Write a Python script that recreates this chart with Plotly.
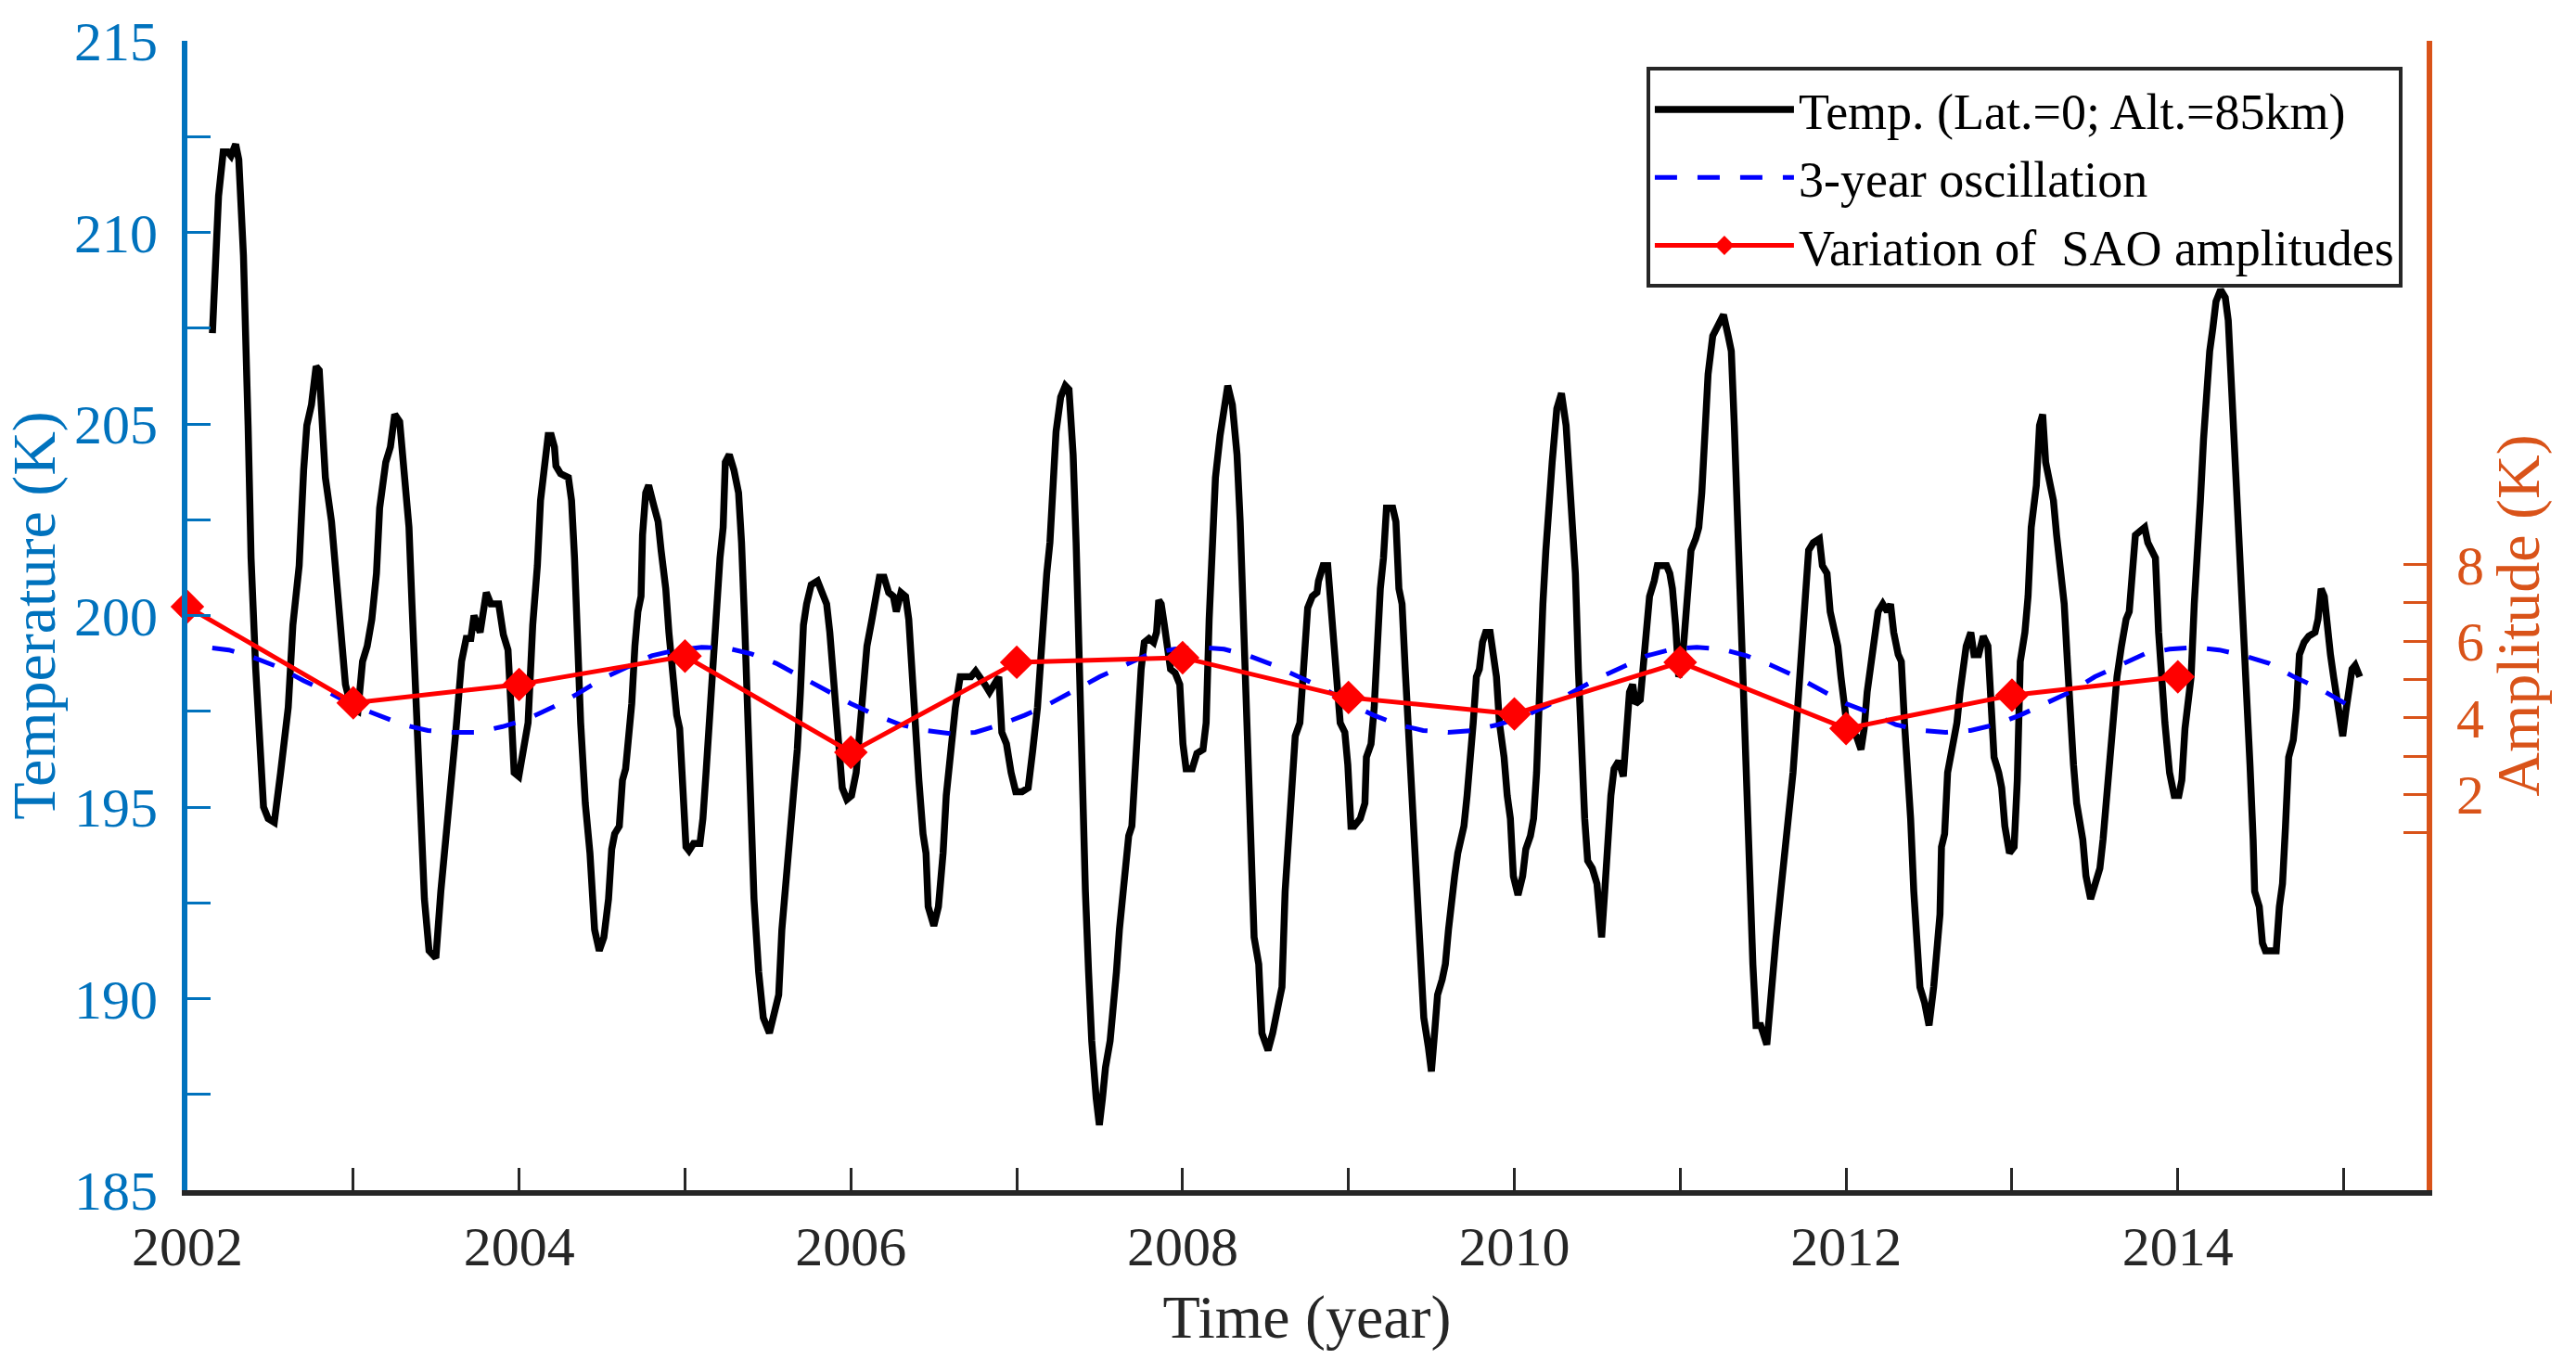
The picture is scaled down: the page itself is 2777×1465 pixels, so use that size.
import plotly.graph_objects as go

# ---------------- data ----------------
# Temperature at Lat.=0, Alt.=85 km  (year, K)
temp_points = [
    (2002.151, 207.37), (2002.188, 210.95), (2002.216, 212.1), (2002.244, 212.1), (2002.263, 212.0),
    (2002.291, 212.3), (2002.310, 211.9), (2002.338, 209.4), (2002.366, 204.96), (2002.384, 201.5),
    (2002.412, 198.6), (2002.440, 196.5), (2002.459, 195.0), (2002.487, 194.7), (2002.524, 194.6),
    (2002.562, 195.9), (2002.608, 197.6), (2002.636, 199.75), (2002.674, 201.3), (2002.701, 203.8),
    (2002.720, 204.96), (2002.748, 205.5), (2002.776, 206.5), (2002.795, 206.4), (2002.832, 203.6),
    (2002.869, 202.45), (2002.897, 200.9), (2002.925, 199.4), (2002.953, 198.2), (2002.987, 197.6),
    (2003.028, 197.5), (2003.056, 198.8), (2003.084, 199.2), (2003.112, 199.9), (2003.140, 201.1),
    (2003.159, 202.8), (2003.196, 204.0), (2003.224, 204.4), (2003.250, 205.25), (2003.280, 205.06),
    (2003.308, 203.8), (2003.336, 202.3), (2003.354, 200.3), (2003.379, 197.6), (2003.401, 194.7),
    (2003.429, 192.6), (2003.457, 191.25), (2003.498, 191.06), (2003.528, 192.8), (2003.560, 194.2),
    (2003.588, 195.7), (2003.616, 196.85), (2003.653, 198.8), (2003.681, 199.4), (2003.709, 199.4),
    (2003.728, 200.0), (2003.765, 199.56), (2003.802, 200.6), (2003.830, 200.3), (2003.877, 200.3),
    (2003.905, 199.5), (2003.933, 199.1), (2003.951, 197.6), (2003.970, 195.9), (2003.998, 195.8),
    (2004.026, 196.5), (2004.054, 197.2), (2004.082, 199.75), (2004.110, 201.3), (2004.129, 203.0),
    (2004.157, 204.2), (2004.175, 204.7), (2004.194, 204.7), (2004.213, 204.4), (2004.222, 203.9),
    (2004.250, 203.7), (2004.297, 203.6), (2004.316, 203.0), (2004.334, 201.5), (2004.353, 199.2),
    (2004.371, 197.2), (2004.399, 195.1), (2004.427, 193.8), (2004.455, 191.8), (2004.483, 191.25),
    (2004.511, 191.6), (2004.539, 192.6), (2004.558, 193.9), (2004.576, 194.3), (2004.604, 194.5),
    (2004.623, 195.7), (2004.642, 196.0), (2004.660, 196.85), (2004.679, 197.7), (2004.698, 199.2),
    (2004.716, 200.1), (2004.735, 200.5), (2004.744, 202.1), (2004.763, 203.2), (2004.781, 203.4),
    (2004.810, 202.9), (2004.838, 202.45), (2004.856, 201.7), (2004.884, 200.7), (2004.903, 199.56),
    (2004.922, 198.6), (2004.950, 197.4), (2004.968, 197.05), (2004.987, 195.7), (2005.006, 193.96),
    (2005.024, 193.86), (2005.052, 194.05), (2005.090, 194.05), (2005.108, 194.7), (2005.127, 195.9),
    (2005.146, 197.2), (2005.164, 198.8), (2005.183, 200.3), (2005.211, 201.5), (2005.230, 202.3),
    (2005.243, 204.0), (2005.267, 204.2), (2005.295, 203.8), (2005.323, 203.2), (2005.341, 201.9),
    (2005.360, 199.75), (2005.379, 197.2), (2005.397, 194.7), (2005.416, 192.6), (2005.444, 190.7),
    (2005.472, 189.5), (2005.509, 189.1), (2005.537, 189.7), (2005.565, 190.1), (2005.584, 191.8),
    (2005.612, 193.2), (2005.631, 194.15), (2005.657, 195.5), (2005.677, 196.5), (2005.696, 198.0),
    (2005.714, 199.75), (2005.733, 200.3), (2005.761, 200.8), (2005.799, 200.9), (2005.826, 200.6),
    (2005.854, 200.3), (2005.873, 199.56), (2005.892, 198.6), (2005.910, 197.6), (2005.929, 196.3),
    (2005.948, 195.5), (2005.976, 195.2), (2006.004, 195.3), (2006.032, 195.9), (2006.050, 196.7),
    (2006.078, 198.0), (2006.097, 199.2), (2006.125, 199.85), (2006.144, 200.3), (2006.172, 201.0),
    (2006.200, 201.0), (2006.228, 200.6), (2006.256, 200.5), (2006.274, 200.1), (2006.302, 200.6),
    (2006.330, 200.5), (2006.349, 199.9), (2006.368, 198.6), (2006.386, 196.7), (2006.410, 195.7),
    (2006.435, 194.3), (2006.453, 193.8), (2006.466, 192.4), (2006.500, 191.9), (2006.528, 192.4),
    (2006.556, 193.8), (2006.575, 195.3), (2006.603, 196.5), (2006.630, 197.6), (2006.659, 198.4),
    (2006.696, 198.4), (2006.724, 198.4), (2006.752, 198.55), (2006.780, 198.4), (2006.808, 198.2),
    (2006.836, 198.0), (2006.864, 198.2), (2006.892, 198.4), (2006.910, 196.95), (2006.938, 196.65),
    (2006.966, 195.9), (2006.994, 195.4), (2007.032, 195.4), (2007.069, 195.5), (2007.097, 196.5),
    (2007.125, 197.6), (2007.144, 198.8), (2007.162, 200.1), (2007.181, 201.1), (2007.200, 201.9),
    (2007.218, 203.6), (2007.237, 204.8), (2007.265, 205.7), (2007.293, 206.0), (2007.315, 205.9),
    (2007.340, 204.2), (2007.358, 201.9), (2007.377, 198.4), (2007.396, 194.7), (2007.414, 192.8),
    (2007.433, 190.7), (2007.452, 188.9), (2007.479, 187.4), (2007.498, 186.7), (2007.517, 187.4),
    (2007.535, 188.2), (2007.563, 188.9), (2007.582, 189.7), (2007.601, 190.7), (2007.619, 191.8),
    (2007.638, 192.8), (2007.657, 193.8), (2007.675, 194.25), (2007.694, 194.5), (2007.713, 196.1),
    (2007.731, 197.2), (2007.750, 198.6), (2007.769, 199.3), (2007.797, 199.4), (2007.825, 199.3),
    (2007.843, 199.56), (2007.856, 200.4), (2007.871, 200.3), (2007.890, 199.75), (2007.909, 199.2),
    (2007.927, 198.6), (2007.955, 198.5), (2007.983, 198.2), (2008.002, 196.65), (2008.021, 196.0),
    (2008.058, 196.0), (2008.086, 196.4), (2008.123, 196.5), (2008.142, 197.2), (2008.160, 199.9),
    (2008.179, 202.1), (2008.198, 203.6), (2008.226, 204.7), (2008.254, 205.7), (2008.272, 206.0),
    (2008.300, 205.5), (2008.328, 204.2), (2008.347, 202.45), (2008.366, 199.9), (2008.384, 196.65),
    (2008.403, 193.96), (2008.431, 191.6), (2008.459, 190.9), (2008.478, 189.1), (2008.515, 188.65),
    (2008.543, 189.1), (2008.580, 189.9), (2008.599, 190.3), (2008.618, 192.8), (2008.636, 193.96),
    (2008.655, 195.1), (2008.679, 196.85), (2008.707, 197.2), (2008.726, 198.2), (2008.745, 199.56),
    (2008.754, 200.2), (2008.782, 200.5), (2008.810, 200.6), (2008.819, 200.9), (2008.847, 201.3),
    (2008.875, 201.3), (2008.894, 200.3), (2008.913, 199.0), (2008.931, 198.2), (2008.950, 197.2),
    (2008.978, 196.95), (2008.996, 196.1), (2009.015, 194.5), (2009.034, 194.5), (2009.071, 194.7),
    (2009.099, 195.1), (2009.108, 196.3), (2009.136, 196.65), (2009.155, 197.6), (2009.173, 199.2),
    (2009.192, 200.7), (2009.211, 201.5), (2009.229, 202.8), (2009.267, 202.8), (2009.286, 202.45),
    (2009.304, 200.7), (2009.323, 200.3), (2009.342, 198.6), (2009.360, 197.05), (2009.379, 195.1),
    (2009.397, 194.15), (2009.416, 192.8), (2009.435, 190.9), (2009.454, 189.5), (2009.481, 188.75),
    (2009.500, 188.1), (2009.519, 189.1), (2009.537, 190.1), (2009.565, 190.5), (2009.584, 190.9),
    (2009.603, 191.8), (2009.621, 192.6), (2009.640, 193.2), (2009.659, 193.8), (2009.677, 194.15),
    (2009.696, 194.5), (2009.715, 195.3), (2009.733, 196.1), (2009.752, 197.2), (2009.771, 198.4),
    (2009.789, 198.6), (2009.808, 199.3), (2009.827, 199.56), (2009.854, 199.56), (2009.873, 198.8),
    (2009.892, 198.4), (2009.910, 197.2), (2009.938, 196.3), (2009.957, 195.3), (2009.976, 194.7),
    (2009.994, 193.2), (2010.022, 192.7), (2010.050, 193.2), (2010.069, 193.9), (2010.097, 194.25),
    (2010.116, 194.7), (2010.134, 195.9), (2010.153, 198.4), (2010.172, 200.3), (2010.190, 201.7),
    (2010.209, 203.0), (2010.228, 204.0), (2010.256, 205.4), (2010.284, 205.8), (2010.312, 204.96),
    (2010.330, 203.6), (2010.349, 202.3), (2010.368, 201.1), (2010.386, 198.6), (2010.405, 196.5),
    (2010.424, 194.7), (2010.442, 193.6), (2010.470, 193.4), (2010.498, 193.0), (2010.517, 192.2),
    (2010.526, 191.6), (2010.545, 192.8), (2010.563, 194.15), (2010.582, 195.3), (2010.601, 196.0),
    (2010.629, 196.2), (2010.657, 195.8), (2010.675, 197.05), (2010.694, 198.0), (2010.713, 198.2),
    (2010.731, 197.7), (2010.759, 197.8), (2010.778, 198.8), (2010.797, 199.75), (2010.815, 200.5),
    (2010.843, 200.9), (2010.862, 201.3), (2010.890, 201.3), (2010.918, 201.3), (2010.937, 201.1),
    (2010.953, 200.7), (2010.972, 199.75), (2010.991, 198.4), (2011.009, 198.6), (2011.028, 199.56),
    (2011.047, 200.5), (2011.065, 201.7), (2011.093, 202.0), (2011.112, 202.3), (2011.130, 203.2),
    (2011.149, 204.96), (2011.168, 206.3), (2011.196, 207.3), (2011.224, 207.5), (2011.261, 207.85),
    (2011.289, 207.3), (2011.308, 206.9), (2011.326, 204.96), (2011.345, 202.45), (2011.363, 199.75),
    (2011.382, 197.05), (2011.401, 194.5), (2011.420, 192.8), (2011.438, 190.9), (2011.457, 189.3),
    (2011.485, 189.3), (2011.522, 188.8), (2011.541, 189.9), (2011.559, 190.9), (2011.578, 191.6),
    (2011.606, 192.8), (2011.624, 193.6), (2011.643, 194.15), (2011.662, 194.9), (2011.680, 195.9),
    (2011.699, 197.05), (2011.718, 198.2), (2011.736, 199.2), (2011.755, 200.3), (2011.774, 201.7),
    (2011.802, 201.9), (2011.839, 202.0), (2011.857, 201.3), (2011.885, 201.1), (2011.904, 200.1),
    (2011.922, 199.75), (2011.950, 199.2), (2011.969, 198.4), (2011.988, 197.6), (2012.007, 197.05),
    (2012.034, 196.95), (2012.062, 196.85), (2012.090, 196.5), (2012.109, 197.05), (2012.127, 198.0),
    (2012.156, 198.8), (2012.175, 199.56), (2012.193, 200.1), (2012.221, 200.3), (2012.249, 200.1),
    (2012.268, 200.3), (2012.287, 199.56), (2012.314, 198.98), (2012.333, 198.8), (2012.352, 197.2),
    (2012.370, 196.1), (2012.389, 194.7), (2012.408, 192.8), (2012.426, 191.45), (2012.445, 190.3),
    (2012.473, 189.9), (2012.500, 189.3), (2012.528, 190.3), (2012.547, 191.06), (2012.566, 192.2),
    (2012.575, 193.96), (2012.594, 194.3), (2012.612, 195.9), (2012.631, 196.3), (2012.650, 196.85),
    (2012.668, 197.2), (2012.687, 198.0), (2012.706, 198.6), (2012.724, 199.2), (2012.752, 199.56),
    (2012.771, 198.98), (2012.799, 198.98), (2012.827, 199.46), (2012.855, 199.2), (2012.873, 197.6),
    (2012.892, 196.3), (2012.920, 195.9), (2012.938, 195.5), (2012.957, 194.5), (2012.985, 193.8),
    (2013.013, 193.96), (2013.032, 195.7), (2013.050, 198.8), (2013.078, 199.56), (2013.097, 200.5),
    (2013.116, 202.3), (2013.147, 203.4), (2013.166, 204.96), (2013.185, 205.25), (2013.203, 204.0),
    (2013.231, 203.4), (2013.250, 203.0), (2013.269, 202.1), (2013.297, 201.1), (2013.315, 200.3),
    (2013.334, 198.8), (2013.353, 197.05), (2013.371, 196.1), (2013.390, 195.1), (2013.409, 194.5),
    (2013.427, 194.15), (2013.446, 193.2), (2013.474, 192.6), (2013.502, 193.0), (2013.530, 193.4),
    (2013.549, 194.15), (2013.577, 195.7), (2013.595, 196.85), (2013.614, 197.6), (2013.633, 198.4),
    (2013.660, 199.2), (2013.688, 199.9), (2013.707, 200.1), (2013.726, 200.9), (2013.744, 202.1),
    (2013.772, 202.2), (2013.800, 202.3), (2013.819, 201.9), (2013.847, 201.7), (2013.865, 201.5),
    (2013.884, 199.56), (2013.903, 198.0), (2013.922, 197.2), (2013.950, 195.9), (2013.978, 195.3),
    (2014.006, 195.3), (2014.024, 195.7), (2014.043, 197.05), (2014.062, 198.0), (2014.080, 198.4),
    (2014.099, 200.3), (2014.118, 201.5), (2014.136, 203.0), (2014.155, 204.6), (2014.174, 205.9),
    (2014.192, 206.9), (2014.211, 207.5), (2014.230, 208.2), (2014.258, 208.5), (2014.286, 208.3),
    (2014.304, 207.7), (2014.323, 206.1), (2014.342, 204.4), (2014.360, 202.6), (2014.379, 201.5),
    (2014.398, 199.75), (2014.416, 198.4), (2014.435, 196.1), (2014.454, 194.15), (2014.463, 192.8),
    (2014.491, 192.4), (2014.510, 191.45), (2014.528, 191.25), (2014.565, 191.25), (2014.593, 191.25),
    (2014.612, 192.4), (2014.631, 193.0), (2014.649, 194.5), (2014.668, 196.3), (2014.696, 196.75),
    (2014.715, 197.6), (2014.733, 198.98), (2014.761, 199.3), (2014.789, 199.46), (2014.827, 199.56),
    (2014.845, 199.9), (2014.864, 200.7), (2014.883, 200.5), (2014.901, 199.56), (2014.920, 198.98),
    (2014.939, 198.4), (2014.957, 197.8), (2014.976, 197.2), (2014.994, 196.85), (2015.013, 197.5),
    (2015.032, 198.0), (2015.050, 198.6), (2015.069, 198.7), (2015.097, 198.4),
]
temp_year = [p[0] for p in temp_points]
temp_k = [p[1] for p in temp_points]

# 3-year oscillation (year, K)
osc_year = [2002.15, 2002.25, 2002.40, 2002.55, 2002.70, 2002.85, 2003.00, 2003.15, 2003.30, 2003.45,
            2003.60, 2003.75, 2003.90, 2004.05, 2004.20, 2004.35, 2004.50, 2004.65, 2004.80, 2004.95,
            2005.10, 2005.25, 2005.40, 2005.55, 2005.70, 2005.85, 2006.00, 2006.15, 2006.30, 2006.45,
            2006.60, 2006.75, 2006.90, 2007.05, 2007.20, 2007.35, 2007.50, 2007.65, 2007.80, 2007.95,
            2008.10, 2008.25, 2008.40, 2008.55, 2008.70, 2008.85, 2009.00, 2009.15, 2009.30, 2009.45,
            2009.60, 2009.75, 2009.90, 2010.05, 2010.20, 2010.35, 2010.50, 2010.65, 2010.80, 2010.95,
            2011.10, 2011.25, 2011.40, 2011.55, 2011.70, 2011.85, 2012.00, 2012.15, 2012.30, 2012.45,
            2012.60, 2012.75, 2012.90, 2013.05, 2013.20, 2013.35, 2013.50, 2013.65, 2013.80, 2013.95,
            2014.10, 2014.25, 2014.40, 2014.55, 2014.70, 2014.85, 2015.00, 2015.05]
osc_k = [199.15, 199.1, 198.9, 198.65, 198.3, 198.0, 197.65, 197.4, 197.15, 197.0,
         196.95, 196.95, 197.1, 197.3, 197.6, 197.95, 198.35, 198.65, 198.95, 199.1,
         199.17, 199.15, 199.0, 198.75, 198.4, 198.05, 197.7, 197.4, 197.15, 197.0,
         196.92, 196.95, 197.15, 197.4, 197.7, 198.05, 198.4, 198.7, 199.0, 199.12,
         199.17, 199.12, 198.95, 198.7, 198.4, 198.1, 197.7, 197.4, 197.15, 197.0,
         196.95, 197.0, 197.15, 197.35, 197.65, 198.0, 198.35, 198.65, 198.95, 199.12,
         199.17, 199.12, 198.95, 198.7, 198.4, 198.05, 197.7, 197.45, 197.15, 197.0,
         196.95, 197.0, 197.15, 197.4, 197.7, 198.0, 198.4, 198.7, 199.0, 199.12,
         199.17, 199.1, 198.95, 198.75, 198.4, 198.1, 197.7, 197.6]

# SAO amplitudes (year, K) on the right axis
sao_year = [2002, 2003, 2004, 2005, 2006, 2007, 2008, 2009, 2010, 2011, 2012, 2013, 2014]
sao_amp = [6.9, 4.39, 4.87, 5.61, 3.1, 5.45, 5.57, 4.53, 4.1, 5.45, 3.72, 4.59, 5.07]

# tick labels
x_tickvals = list(range(2002, 2016))
x_ticktext = [str(v) if v % 2 == 0 else "" for v in x_tickvals]
y_tickvals = [185 + 2.5 * i for i in range(13)]
y_ticktext = [str(int(v)) if v % 5 == 0 else "" for v in y_tickvals]
y2_tickvals = [1, 2, 3, 4, 5, 6, 7, 8]
y2_ticktext = ["", "2", "", "4", "", "6", "", "8"]

# ---------------- styling ----------------
FONT = "Liberation Serif, Times New Roman, serif"
DARK = "#262626"
BLUE_AX = "#0072BD"
ORANGE_AX = "#D95319"
Y_RANGE = [185, 215]
AMP_OFFSET = 193.33  # right axis = left axis - offset

fig = go.Figure()
fig.add_trace(go.Scatter(
    x=temp_year, y=temp_k, mode="lines",
    name="Temp. (Lat.=0; Alt.=85km)",
    line=dict(color="black", width=7.5),
))
fig.add_trace(go.Scatter(
    x=osc_year, y=osc_k, mode="lines",
    name="3-year oscillation",
    line=dict(color="#0000FF", width=5, dash="24px,22px"),
))
fig.add_trace(go.Scatter(
    x=sao_year, y=sao_amp, mode="lines+markers", yaxis="y2",
    name="Variation of\u00a0 SAO amplitudes",
    line=dict(color="#FF0000", width=5),
    marker=dict(symbol="diamond", size=28, color="#FF0000"),
    cliponaxis=False,
))

fig.update_layout(
    width=2777, height=1465,
    margin=dict(l=202, r=161, t=40, b=182),
    paper_bgcolor="white", plot_bgcolor="white",
    font=dict(family=FONT, size=60, color=DARK),
    showlegend=True,
    legend=dict(
        x=0.9892, y=0.977, xanchor="right", yanchor="top",
        bgcolor="white", bordercolor=DARK, borderwidth=4,
        font=dict(family=FONT, size=54, color="black"),
        itemwidth=150, tracegroupgap=0,
    ),
    xaxis=dict(
        range=[2002, 2015.5], tickmode="array", tickvals=x_tickvals, ticktext=x_ticktext,
        ticks="inside", ticklen=24, tickwidth=3, tickcolor=DARK,
        showline=True, linecolor=DARK, linewidth=6, mirror=False,
        showgrid=False, zeroline=False,
        tickfont=dict(family=FONT, size=60, color=DARK),
        ticklabelstandoff=3,
        title=dict(text="Time (year)", font=dict(family=FONT, size=66, color=DARK), standoff=22),
    ),
    yaxis=dict(
        range=Y_RANGE, tickmode="array", tickvals=y_tickvals, ticktext=y_ticktext,
        ticks="inside", ticklen=25, tickwidth=3, tickcolor=BLUE_AX,
        showline=True, linecolor=BLUE_AX, linewidth=6,
        showgrid=False, zeroline=False,
        tickfont=dict(family=FONT, size=60, color=BLUE_AX),
        ticklabelstandoff=14,
        title=dict(text="Temperature (K)", font=dict(family=FONT, size=66, color=BLUE_AX), standoff=8),
    ),
    yaxis2=dict(
        overlaying="y", side="right",
        range=[Y_RANGE[0] - AMP_OFFSET, Y_RANGE[1] - AMP_OFFSET],
        tickmode="array", tickvals=y2_tickvals, ticktext=y2_ticktext,
        ticks="inside", ticklen=25, tickwidth=3, tickcolor=ORANGE_AX,
        showline=True, linecolor=ORANGE_AX, linewidth=6,
        showgrid=False, zeroline=False,
        tickfont=dict(family=FONT, size=60, color=ORANGE_AX),
        ticklabelstandoff=14,
        title=dict(text="Amplitude (K)", font=dict(family=FONT, size=66, color=ORANGE_AX), standoff=16),
    ),
)

fig.write_html("out.html", config={"displayModeBar": False},
               post_script="document.body.style.margin='0';")
